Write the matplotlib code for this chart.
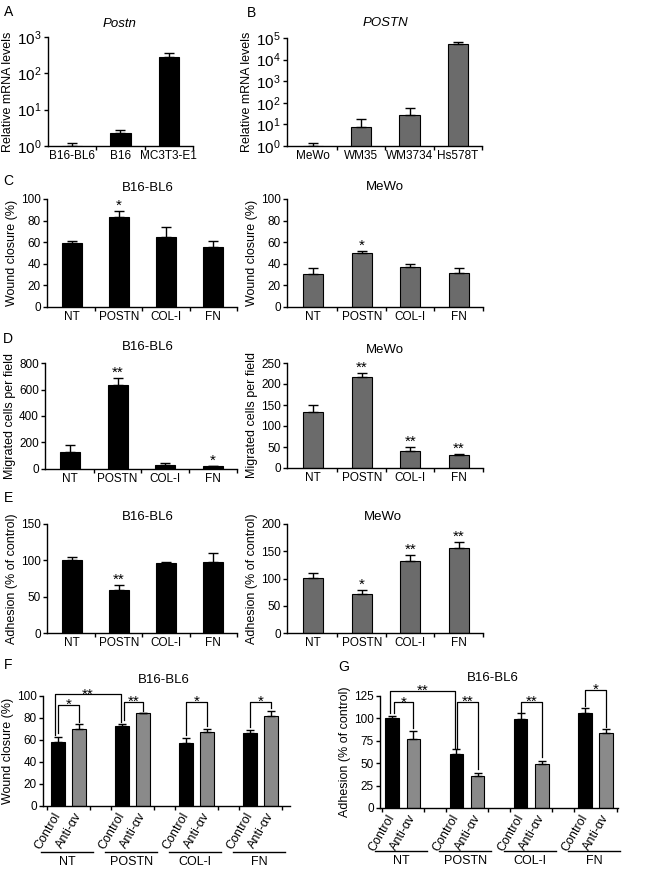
import numpy as np
import matplotlib.pyplot as plt

plt.rcParams['font.family'] = ['Liberation Sans', 'DejaVu Sans']
plt.rcParams['mathtext.fontset'] = 'custom'
plt.rcParams['mathtext.rm'] = 'Liberation Sans'
plt.rcParams['mathtext.it'] = 'Liberation Sans:italic'

# ---- data ----
a_cells = ['B16-BL6', 'B16', 'MC3T3-E1']
a_mean = [1.0, 2.3, 290]
a_sem = [0.23, 0.45, 80]

b_cells = ['MeWo', 'WM35', 'WM3734', 'Hs578T']
b_mean = [1.0, 7.8, 26, 51000]
b_sem = [0.4, 10, 33, 14000]

treat = ['NT', 'POSTN', 'COL-I', 'FN']

c_bl6 = [59.3, 83.0, 64.8, 55.9]
c_bl6_sem = [1.5, 5.6, 9.0, 5.2]
c_bl6_sig = ['', '*', '', '']
c_mewo = [30.9, 49.7, 37.3, 31.8]
c_mewo_sem = [5.2, 2.4, 2.5, 4.0]
c_mewo_sig = ['', '*', '', '']

d_bl6 = [128, 631, 32, 20]
d_bl6_sem = [55, 56, 13, 5]
d_bl6_sig = ['', '**', '', '*']
d_mewo = [134, 215.5, 40, 30.4]
d_mewo_sem = [16, 10.5, 9.6, 3.1]
d_mewo_sig = ['', '**', '**', '**']

e_bl6 = [100.9, 59.6, 96.3, 97.7]
e_bl6_sem = [3.1, 6.9, 1.4, 12.3]
e_bl6_sig = ['', '**', '', '']
e_mewo = [101, 71.6, 131.4, 156]
e_mewo_sem = [9, 7.8, 11, 11]
e_mewo_sig = ['', '*', '**', '**']

arms = ['Control', 'Anti-\u03b1v']
f_ctrl = [58.4, 73.0, 57.4, 66.0]
f_ctrl_sem = [3.9, 2.0, 4.0, 3.0]
f_anti = [70.2, 84.2, 66.9, 81.8]
f_anti_sem = [4.0, 0.6, 3.0, 4.5]

g_ctrl = [100, 60.8, 98.9, 105.6]
g_ctrl_sem = [3.0, 4.5, 7.4, 6.4]
g_anti = [76.5, 35.8, 49.3, 84.0]
g_anti_sem = [9.3, 3.8, 3.7, 3.7]

W, H = 658, 877
GRAY = '#6b6b6b'
LIGHT = '#8a8a8a'

fig = plt.figure(figsize=(W / 100, H / 100), dpi=100)


def add_ax(x0, x1, y0, y1):
    return fig.add_axes([x0 / W, 1 - y1 / H, (x1 - x0) / W, (y1 - y0) / H])


def style(ax):
    for s in ['top', 'right']:
        ax.spines[s].set_visible(False)
    for s in ['left', 'bottom']:
        ax.spines[s].set_linewidth(1)
    ax.tick_params(axis='y', direction='out', length=3, width=1, labelsize=8.5, pad=1.5)
    ax.tick_params(axis='x', which='major', length=0, labelsize=8.5, pad=3)
    ax.tick_params(axis='x', which='minor', direction='out', length=3, width=1)


def bar_panel(ax, labels, mean, sem, color, xlim, ylim, yticks, ylabel, sig=None, log=False):
    x = np.arange(len(labels))
    ax.bar(x, mean, width=0.42, color=color, edgecolor='black', linewidth=0.8, zorder=2, log=log)
    ax.errorbar(x, mean, yerr=[np.zeros(len(x)), sem], fmt='none', ecolor='black',
                elinewidth=1, capsize=3.5, capthick=1, zorder=3)
    ax.set_xlim(*xlim)
    ax.set_ylim(*ylim)
    ax.set_yticks(yticks)
    ax.set_xticks(x)
    ax.set_xticklabels(labels)
    ax.set_xticks(x + 0.5, minor=True)
    ax.set_ylabel(ylabel, fontsize=9, labelpad=2)
    style(ax)
    if log:
        ax.set_yticklabels(['$10^{%d}$' % int(np.log10(t)) for t in yticks])
        ax.minorticks_off()
        ax.set_xticks(x + 0.5, minor=True)
        ax.tick_params(axis='y', labelsize=11)
    if sig:
        for xi, m, e, s in zip(x, mean, sem, sig):
            if s:
                ax.annotate(s, (xi, m + e), xytext=(0, 1), textcoords='offset points',
                            ha='center', va='baseline', fontsize=11)


def group_panel(ax, ctrl, ctrl_sem, anti, anti_sem, xlim, ylim, yticks, ylabel,
                line_y, label_y, brackets):
    g = np.arange(len(treat))
    off, w = 0.165, 0.21
    ax.bar(g - off, ctrl, w, color='black', edgecolor='black', linewidth=0.8, zorder=2)
    ax.bar(g + off, anti, w, color=LIGHT, edgecolor='black', linewidth=0.8, zorder=2)
    ax.errorbar(g - off, ctrl, yerr=[np.zeros(4), ctrl_sem], fmt='none', ecolor='black',
                elinewidth=1, capsize=3, capthick=1, zorder=3)
    ax.errorbar(g + off, anti, yerr=[np.zeros(4), anti_sem], fmt='none', ecolor='black',
                elinewidth=1, capsize=3, capthick=1, zorder=3)
    ax.set_xlim(*xlim)
    ax.set_ylim(*ylim)
    ax.set_yticks(yticks)
    pos = np.sort(np.concatenate([g - off, g + off]))
    ax.set_xticks(pos)
    ax.set_xticklabels(arms * len(treat))
    ax.set_xticks(np.concatenate([g - 0.33, g + 0.33]), minor=True)
    ax.set_ylabel(ylabel, fontsize=9, labelpad=2)
    style(ax)
    ax.tick_params(axis='x', which='major', pad=5)
    plt.setp(ax.get_xticklabels(), rotation=60, ha='right', va='center',
             rotation_mode='anchor', fontsize=9)
    trans = ax.get_xaxis_transform()
    for gi, name in zip(g, treat):
        ax.plot([gi - 0.43, gi + 0.38], [line_y, line_y], transform=trans,
                color='black', lw=1, clip_on=False)
        ax.text(gi - 0.02, label_y, name, transform=trans, ha='center', va='center', fontsize=9)
    for x1, x2, y1, yt, y2, s in brackets:
        ax.plot([x1, x1, x2, x2], [y1, yt, yt, y2], color='black', lw=0.9, clip_on=False)
        ax.annotate(s, ((x1 + x2) / 2, yt), xytext=(0, -3), textcoords='offset points',
                    ha='center', va='baseline', fontsize=11, annotation_clip=False)


# A
ax = add_ax(48, 193, 37, 146)
bar_panel(ax, a_cells, a_mean, a_sem, 'black', (-0.5, 2.5), (1, 1000),
          [1, 10, 100, 1000], 'Relative mRNA levels', log=True)
# B
ax = add_ax(287, 482, 38, 146)
bar_panel(ax, b_cells, b_mean, b_sem, GRAY, (-0.54, 3.5), (1, 1e5),
          [1, 10, 100, 1000, 1e4, 1e5], 'Relative mRNA levels', log=True)

left_x = (47, 237)
right_x = (287, 483)
# C
ax = add_ax(*left_x, 199, 307)
bar_panel(ax, treat, c_bl6, c_bl6_sem, 'black', (-0.52, 3.5), (0, 100),
          range(0, 101, 20), 'Wound closure (%)', c_bl6_sig)
ax = add_ax(*right_x, 199, 307)
bar_panel(ax, treat, c_mewo, c_mewo_sem, GRAY, (-0.54, 3.5), (0, 100),
          range(0, 101, 20), 'Wound closure (%)', c_mewo_sig)
# D
ax = add_ax(45, 237, 363, 469)
bar_panel(ax, treat, d_bl6, d_bl6_sem, 'black', (-0.52, 3.5), (0, 800),
          range(0, 801, 200), 'Migrated cells per field', d_bl6_sig)
ax = add_ax(*right_x, 363, 468)
bar_panel(ax, treat, d_mewo, d_mewo_sem, GRAY, (-0.54, 3.5), (0, 250),
          range(0, 251, 50), 'Migrated cells per field', d_mewo_sig)
# E
ax = add_ax(*left_x, 524, 633)
bar_panel(ax, treat, e_bl6, e_bl6_sem, 'black', (-0.52, 3.5), (0, 150),
          range(0, 151, 50), 'Adhesion (% of control)', e_bl6_sig)
ax = add_ax(*right_x, 524, 633)
bar_panel(ax, treat, e_mewo, e_mewo_sem, GRAY, (-0.54, 3.5), (0, 200),
          range(0, 201, 50), 'Adhesion (% of control)', e_mewo_sig)

# F
ax = add_ax(43, 290, 696, 806)
group_panel(ax, f_ctrl, f_ctrl_sem, f_anti, f_anti_sem, (-0.4, 3.46), (0, 100),
            range(0, 101, 20), 'Wound closure (%)', -0.42, -0.51,
            [(-0.22, 0.82, 64.4, 101.5, 76, '**'),
             (-0.165, 0.165, 66, 91.8, 76.6, '*'),
             (0.86, 1.17, 78, 94.8, 86.3, '**'),
             (1.835, 2.165, 64.4, 94.8, 73, '*'),
             (2.835, 3.165, 71.4, 94.8, 88.8, '*')])
# G
ax = add_ax(380, 618, 696, 808)
group_panel(ax, g_ctrl, g_ctrl_sem, g_anti, g_anti_sem, (-0.355, 3.35), (0, 125),
            range(0, 126, 25), 'Adhesion (% of control)', -0.388, -0.477,
            [(-0.2, 0.82, 105.6, 130.6, 67.2, '**'),
             (-0.14, 0.165, 105.6, 117.9, 88.8, '*'),
             (0.85, 1.165, 66.4, 118.7, 44, '**'),
             (1.835, 2.165, 107.5, 118.7, 57, '**'),
             (2.835, 3.165, 114, 131.7, 90.7, '*')])

# titles
titles = [(120, 24, 'Postn', 'italic'), (385, 23, 'POSTN', 'italic'),
          (148, 188, 'B16-BL6', 'normal'), (385, 187, 'MeWo', 'normal'),
          (148, 347, 'B16-BL6', 'normal'), (385, 350, 'MeWo', 'normal'),
          (148, 517, 'B16-BL6', 'normal'), (383, 517, 'MeWo', 'normal'),
          (164, 680, 'B16-BL6', 'normal'), (493, 678, 'B16-BL6', 'normal')]
for x, y, t, st in titles:
    fig.text(x / W, 1 - y / H, t, ha='center', va='center', fontsize=9.5, style=st)

letters = [(4, 12, 'A'), (247, 13, 'B'), (3, 181, 'C'), (3, 339, 'D'),
           (4, 498, 'E'), (4, 665, 'F'), (338, 667, 'G')]
for x, y, t in letters:
    fig.text(x / W, 1 - y / H, t, ha='left', va='center', fontsize=10)

fig.savefig('out.png', dpi=100)
